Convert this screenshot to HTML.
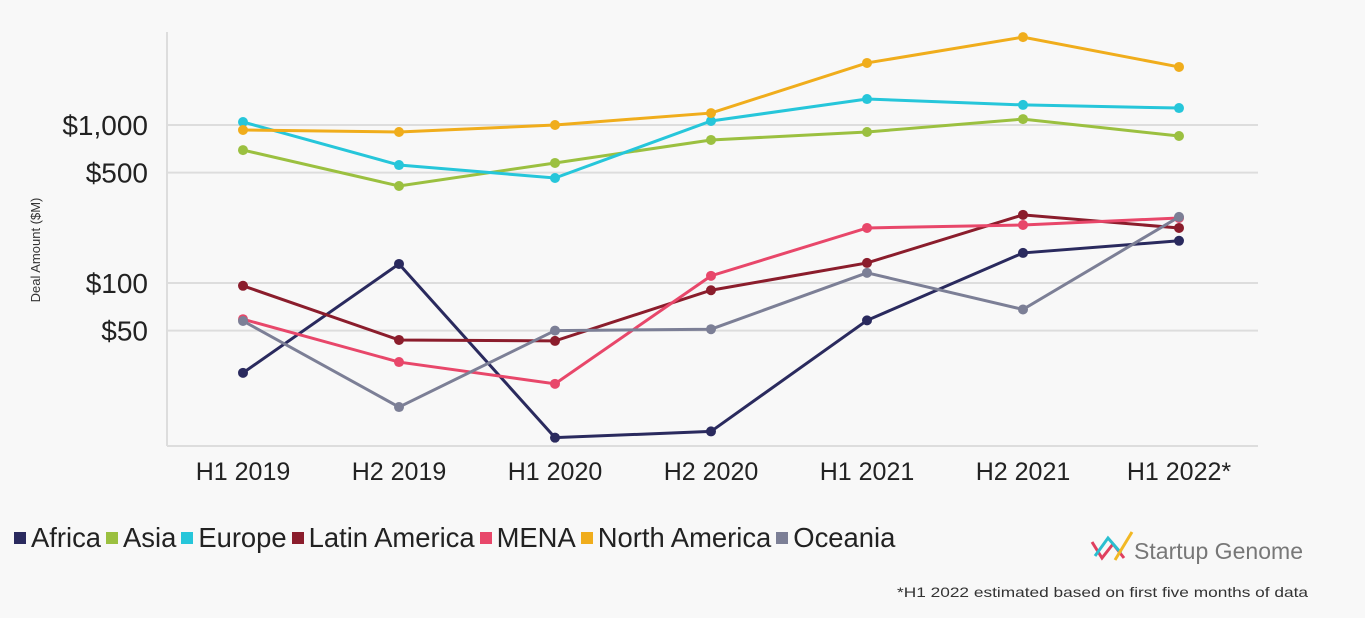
<!DOCTYPE html>
<html><head><meta charset="utf-8"><style>
body{margin:0;width:1365px;height:618px;background:#f8f8f8;font-family:"Liberation Sans",sans-serif;overflow:hidden}
</style></head><body>
<svg id="chart" width="1365" height="618" style="position:absolute;left:0;top:0">
<line x1="167" y1="32" x2="167" y2="446" stroke="#ddd" stroke-width="2"/>
<line x1="167" y1="446" x2="1258" y2="446" stroke="#ddd" stroke-width="2"/>
<text x="40" y="250" transform="rotate(-90 40 250)" text-anchor="middle" font-size="13" fill="#333">Deal Amount ($M)</text>
<g id="grid"></g><g id="series"></g>
<g>
<polyline points="1092,542 1102,558 1113,544 1124,558" fill="none" stroke="#e0405f" stroke-width="3"/>
<polyline points="1095,556 1108,538 1121,553" fill="none" stroke="#2bbfd0" stroke-width="3"/>
<line x1="1115" y1="560" x2="1132" y2="532" stroke="#f2b824" stroke-width="3"/>
<text x="1134" y="559" font-size="23" fill="#777" textLength="169">Startup Genome</text>
</g>
<text x="897" y="597" font-size="14" fill="#333" textLength="411" lengthAdjust="spacingAndGlyphs">*H1 2022 estimated based on first five months of data</text>
</svg>
<div id="legend" style="position:absolute;left:14px;top:522px;font-size:27.4px;color:#222;white-space:nowrap;display:flex;align-items:center"></div>
<script>
const categories=["H1 2019","H2 2019","H1 2020","H2 2020","H1 2021","H2 2021","H1 2022*"];
const tickValues=[1000,500,100,50];
const tickLabels=["$1,000","$500","$100","$50"];
const seriesNames=["Africa","Asia","Europe","Latin America","MENA","North America","Oceania"];
const seriesColors=["#2a2a5e","#9bc040","#26c6da","#8b1d2c","#e8476a","#f0ad1c","#7c7f96"];
const africa=[27,132,10.5,11.5,58,155,185];
const asia=[694,411,575,804,903,1090,852];
const europe=[1045,558,462,1060,1460,1340,1280];
const latinAmerica=[96,43.6,43,90,134,270,223];
const mena=[59,31.6,23,111,223,233,258];
const northAmerica=[930,903,1000,1190,2470,3600,2330];
const oceania=[57.5,16.4,50,51,116,68,262];
const seriesData=[africa,asia,europe,latinAmerica,mena,northAmerica,oceania];
const NS="http://www.w3.org/2000/svg";
function xPos(i){return 243+i*156;}
function yPos(v){return 125+(3-Math.log10(v))*158;}
const grid=document.getElementById('grid');
tickValues.forEach((v,i)=>{
 const l=document.createElementNS(NS,'line');
 l.setAttribute('x1',167);l.setAttribute('x2',1258);l.setAttribute('y1',yPos(v));l.setAttribute('y2',yPos(v));
 l.setAttribute('stroke','#ddd');l.setAttribute('stroke-width',2);
 
 
 grid.appendChild(l);
 const t=document.createElementNS(NS,'text');
 t.setAttribute('x',148);t.setAttribute('y',yPos(v)+10);t.setAttribute('text-anchor','end');
 t.setAttribute('font-size',28);t.setAttribute('fill','#222');t.textContent=tickLabels[i];
 
 
 grid.appendChild(t);
});
categories.forEach((c,i)=>{
 const t=document.createElementNS(NS,'text');
 t.setAttribute('x',xPos(i));t.setAttribute('y',480);t.setAttribute('text-anchor','middle');
 t.setAttribute('font-size',25);t.setAttribute('fill','#222');t.textContent=c;
 
 
 grid.appendChild(t);
});
const sg=document.getElementById('series');
const order=[0,1,2,3,4,6,5];
order.forEach(k=>{
 const d=seriesData[k],col=seriesColors[k];
 const g=document.createElementNS(NS,'g');
 
 
 const p=document.createElementNS(NS,'polyline');
 p.setAttribute('points',d.map((v,i)=>xPos(i)+','+yPos(v)).join(' '));
 p.setAttribute('fill','none');p.setAttribute('stroke',col);p.setAttribute('stroke-width',3);
 
 
 g.appendChild(p);
 d.forEach((v,i)=>{
  const c=document.createElementNS(NS,'circle');
  c.setAttribute('cx',xPos(i));c.setAttribute('cy',yPos(v));c.setAttribute('r',5);c.setAttribute('fill',col);
  
  
  g.appendChild(c);
 });
 sg.appendChild(g);
});
const lg=document.getElementById('legend');
seriesNames.forEach((n,k)=>{
 const e=document.createElement('span');
 
 
 e.style.cssText='display:inline-flex;align-items:center;margin-right:5px';
 e.innerHTML='<span style="display:inline-block;width:12px;height:12px;background:'+seriesColors[k]+';margin-right:5px"></span>'+n;
 lg.appendChild(e);
});
</script>
</body></html>
